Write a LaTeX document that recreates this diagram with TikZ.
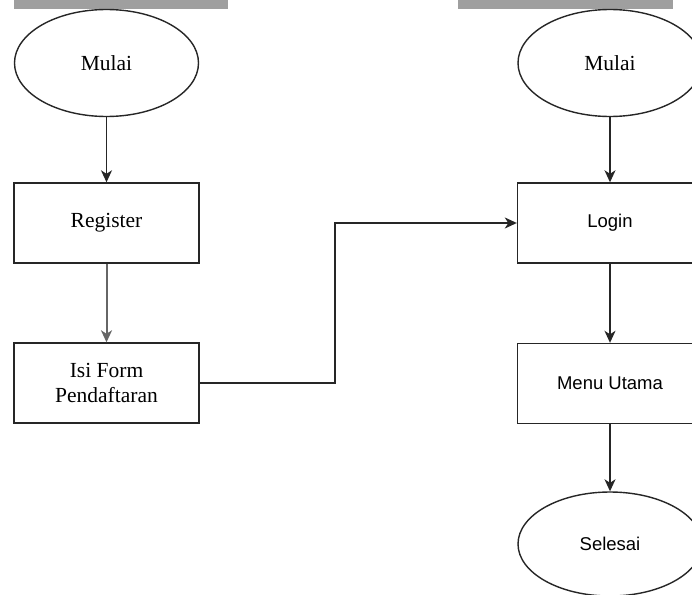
\documentclass[tikz,border=0pt]{standalone}
\usepackage{fontspec}
\setmainfont{Liberation Serif}
\newfontfamily\arialf{Liberation Sans}
\usetikzlibrary{arrows.meta,shapes.geometric}
\begin{document}
\begin{tikzpicture}[x=1pt,y=-1pt,
  shp/.style={draw=black!85,line width=1.4pt,fill=white},
  term/.style={shp,ellipse,minimum width=184pt,minimum height=107pt,inner sep=0pt},
  proc/.style={shp,rectangle,minimum width=185pt,minimum height=80pt,inner sep=0pt,align=center},
  serif/.style={font=\fontsize{21.5}{25}\selectfont},
  sans/.style={font=\arialf\fontsize{18.5}{22}\selectfont},
  conn/.style={draw=black!85,line width=1.4pt,-{Stealth[length=12pt,width=11pt,inset=3.5pt]}}]
\useasboundingbox (0,0) rectangle (692,594);
\fill[white] (0,0) rectangle (692,594);
\fill[gray!75] (14,0) rectangle (228,9);
\fill[gray!75] (458,0) rectangle (673,9);
% left column
\node[term,serif] (m1) at (106.5,63) {Mulai};
\node[proc,serif] (reg) at (106.5,223) {Register};
\node[proc,serif] (isi) at (106.5,383) {Isi Form\\Pendaftaran};
% right column
\node[term,serif] (m2) at (610,63) {Mulai};
\node[proc,sans] (log) at (610,223) {Login};
\node[proc,sans] (menu) at (610,383.5) {Menu Utama};
\node[term,sans,minimum height=104pt] (sel) at (610,544) {Selesai};
\coordinate (b1) at (335,383);
\coordinate (b2) at (335,223);
\draw[conn] (m1) -- (reg);
\draw[conn,draw=black!60,line width=2pt] (reg) -- (isi);
\draw[conn] (m2) -- (log);
\draw[conn] (log) -- (menu);
\draw[conn] (menu) -- (sel);
\draw[conn] (isi.east) -- (b1) -- (b2) -- (log.west);
\end{tikzpicture}
\end{document}
